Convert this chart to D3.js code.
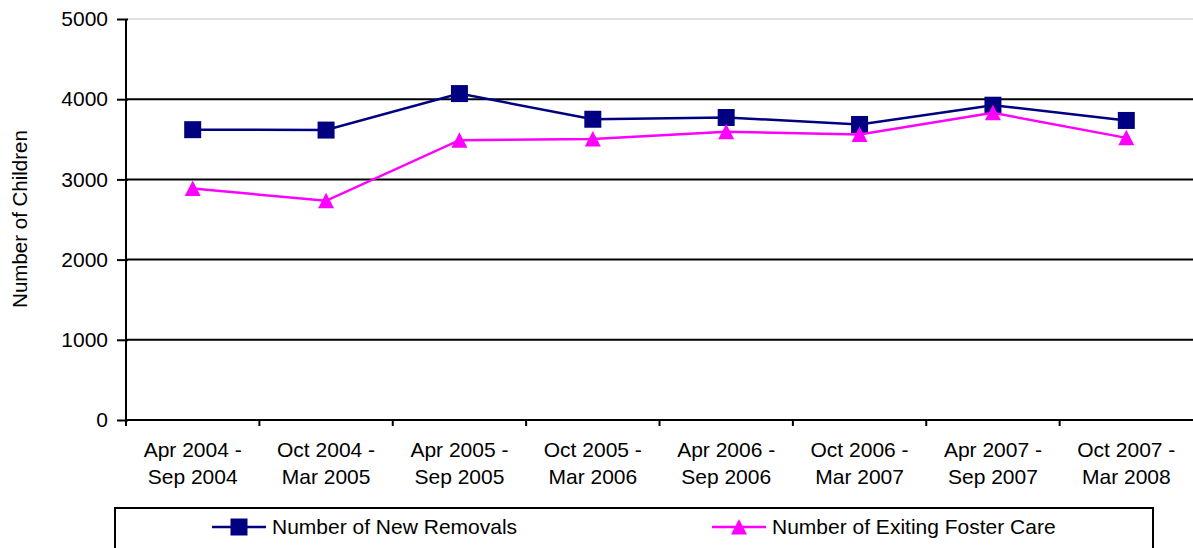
<!DOCTYPE html>
<html>
<head>
<meta charset="utf-8">
<script src="https://cdnjs.cloudflare.com/ajax/libs/d3/7.8.5/d3.min.js"></script>
<style>
  body { margin: 0; background: #fff; }
  svg text { font-family: "Liberation Sans", Arial, sans-serif; fill: #000; }
</style>
</head>
<body>
<div id="chart"></div>
<script>
/* chart data */
var periods = [
  ["Apr 2004 -", "Sep 2004"], ["Oct 2004 -", "Mar 2005"],
  ["Apr 2005 -", "Sep 2005"], ["Oct 2005 -", "Mar 2006"],
  ["Apr 2006 -", "Sep 2006"], ["Oct 2006 -", "Mar 2007"],
  ["Apr 2007 -", "Sep 2007"], ["Oct 2007 -", "Mar 2008"]
];
var newRemovals = [3620, 3615, 4070, 3750, 3772, 3685, 3925, 3735];
var exitingCare = [2887, 2733, 3489, 3505, 3593, 3560, 3830, 3518];
var yTicks = [0, 1000, 2000, 3000, 4000, 5000];
var seriesNames = ["Number of New Removals", "Number of Exiting Foster Care"];

var width = 1193, height = 548;
var plotLeft = 126, plotRight = 1193, plotTop = 19, plotBottom = 420;
var fontSize = "21px";

var svg = d3.select("#chart").append("svg")
    .attr("width", width)
    .attr("height", height);

var x = d3.scaleBand()
    .domain(d3.range(periods.length))
    .range([plotLeft, plotRight]);

var y = d3.scaleLinear()
    .domain([0, 5000])
    .range([plotBottom, plotTop]);

/* grid lines */
svg.append("g").selectAll("line")
    .data(yTicks.filter(function (d) { return d > 0; }))
    .enter().append("line")
    .attr("x1", plotLeft).attr("x2", plotRight)
    .attr("y1", function (d) { return y(d); })
    .attr("y2", function (d) { return y(d); })
    .attr("stroke", function (d) { return d == 5000 ? "#c0c0c0" : "#000"; })
    .attr("stroke-width", function (d) { return d == 5000 ? 1 : 2; });

/* y axis */
var yAxis = svg.append("g")
    .attr("transform", "translate(" + plotLeft + ",0)")
    .call(d3.axisLeft(y).tickValues(yTicks).tickFormat(d3.format("d")).tickSize(9).tickPadding(9));
yAxis.select(".domain").attr("stroke-width", 2).attr("d", "M0," + plotTop + "V" + plotBottom);
yAxis.selectAll(".tick line").attr("stroke-width", 2).attr("x2", -9).attr("x1", 2);
yAxis.selectAll("text").style("font-size", fontSize)
    .style("font-family", "'Liberation Sans', Arial, sans-serif");

/* x axis */
svg.append("line")
    .attr("x1", plotLeft).attr("x2", plotRight)
    .attr("y1", plotBottom).attr("y2", plotBottom)
    .attr("stroke", "#000").attr("stroke-width", 2);

svg.append("g").selectAll("line")
    .data(d3.range(periods.length))
    .enter().append("line")
    .attr("x1", function (d) { return x(d); })
    .attr("x2", function (d) { return x(d); })
    .attr("y1", plotBottom).attr("y2", plotBottom + 6)
    .attr("stroke", "#000").attr("stroke-width", 2);

var labels = svg.append("g").selectAll("text")
    .data(periods)
    .enter().append("text")
    .attr("text-anchor", "middle")
    .style("font-size", fontSize)
    .attr("transform", function (d, i) {
        return "translate(" + (x(i) + x.bandwidth() / 2) + ",0)";
    });
labels.append("tspan").attr("x", 0).attr("y", 457).text(function (d) { return d[0]; });
labels.append("tspan").attr("x", 0).attr("y", 484).text(function (d) { return d[1]; });

/* axis title */
svg.append("text")
    .attr("transform", "translate(27,219) rotate(-90)")
    .attr("text-anchor", "middle")
    .style("font-size", "20.5px")
    .text("Number of Children");

/* series */
var cx = function (d, i) { return x(i) + x.bandwidth() / 2; };
var line = d3.line()
    .x(cx)
    .y(function (d) { return y(d); });

var colors = ["#000080", "#ff00ff"];
var marker = [
    "M-8.5,-8.5H8.5V8.5H-8.5Z",      /* square */
    "M0,-8L8,7.5H-8Z"                /* triangle */
];

[newRemovals, exitingCare].forEach(function (vals, k) {
    svg.append("path")
        .datum(vals)
        .attr("fill", "none")
        .attr("stroke", colors[k])
        .attr("stroke-width", 2.5)
        .attr("d", line);
    svg.append("g").selectAll("path")
        .data(vals)
        .enter().append("path")
        .attr("d", marker[k])
        .attr("fill", colors[k])
        .attr("transform", function (d, i) {
            return "translate(" + cx(d, i) + "," + y(d) + ")";
        });
});

/* legend */
svg.append("rect")
    .attr("x", 115).attr("y", 508)
    .attr("width", 1038).attr("height", 60)
    .attr("fill", "none").attr("stroke", "#000").attr("stroke-width", 2);

var legendX = [212, 712];
seriesNames.forEach(function (name, k) {
    var g = svg.append("g").attr("transform", "translate(" + legendX[k] + ",527)");
    g.append("line").attr("x1", 0).attr("x2", 54)
        .attr("stroke", colors[k]).attr("stroke-width", 2.5);
    g.append("path")
        .attr("d", marker[k])
        .attr("fill", colors[k])
        .attr("transform", "translate(27,0)");
    g.append("text")
        .attr("x", 60).attr("y", 7)
        .style("font-size", fontSize)
        .text(name);
});
</script>
</body>
</html>
